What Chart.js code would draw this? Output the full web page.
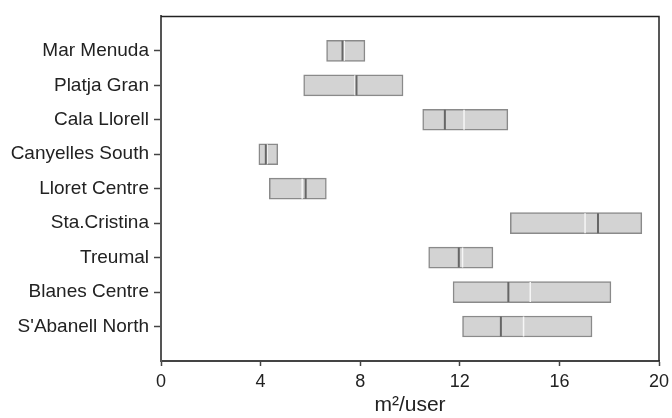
<!DOCTYPE html>
<html>
<head>
<meta charset="utf-8">
<script src="https://cdn.jsdelivr.net/npm/chart.js@4"></script>
<style>
html,body{margin:0;padding:0;background:#fff;}
#wrap{width:672px;height:418px;}
</style>
</head>
<body>
<div id="wrap"><canvas id="c" width="672" height="418"></canvas></div>
<script>
const sites = ["Mar Menuda","Platja Gran","Cala Llorell","Canyelles South","Lloret Centre","Sta.Cristina","Treumal","Blanes Centre","S'Abanell North"];
const lowValues  = [6.65, 5.73, 10.51, 3.93, 4.35, 14.03, 10.75, 11.73, 12.11];
const highValues = [8.19, 9.72, 13.93, 4.69, 6.64, 19.31, 13.33, 18.07, 17.31];
const medianValues = [7.29, 7.85, 11.40, 4.21, 5.81, 17.55, 11.96, 13.95, 13.65];
const meanValues   = [7.36, 7.79, 12.17, 4.26, 5.67, 17.03, 12.11, 14.83, 14.56];
const xTicks = [0, 4, 8, 12, 16, 20];

const barData = sites.map((s, i) => ({ x: [lowValues[i], highValues[i]], y: i }));
const medData = sites.map((s, i) => ({ x: medianValues[i], y: i }));
const meanData = sites.map((s, i) => ({ x: meanValues[i], y: i }));

const framePlugin = {
  id: 'frame',
  afterDraw(chart) {
    const a = chart.chartArea, ctx = chart.ctx;
    ctx.save();
    ctx.strokeStyle = '#222';
    ctx.lineWidth = 1.5;
    ctx.beginPath();
    ctx.moveTo(a.left, a.top); ctx.lineTo(a.right, a.top); ctx.lineTo(a.right, a.bottom);
    ctx.stroke();
    ctx.restore();
  }
};

const font = "'Liberation Sans', Arial, sans-serif";

new Chart(document.getElementById('c'), {
  type: 'bar',
  data: {
    datasets: [
      {
        type: 'bar',
        indexAxis: 'y',
        order: 3,
        data: barData,
        backgroundColor: '#d3d3d3',
        borderColor: '#8a8a8a',
        borderWidth: 1.5,
        borderSkipped: false,
        barThickness: 21
      },
      {
        type: 'scatter',
        order: 2,
        data: meanData,
        showLine: false,
        pointStyle: 'line',
        pointRotation: 90,
        pointRadius: 10,
        pointHoverRadius: 10,
        pointBorderColor: '#f6f6f6',
        pointBorderWidth: 1.5
      },
      {
        type: 'scatter',
        order: 1,
        data: medData,
        showLine: false,
        pointStyle: 'line',
        pointRotation: 90,
        pointRadius: 10,
        pointHoverRadius: 10,
        pointBorderColor: '#666666',
        pointBorderWidth: 2
      }
    ]
  },
  options: {
    responsive: false,
    animation: false,
    events: [],
    layout: { padding: { top: 13, right: 13, left: 0, bottom: 0 } },
    plugins: { legend: { display: false }, tooltip: { enabled: false } },
    scales: {
      x: {
        type: 'linear',
        position: 'bottom',
        offset: false,
        min: 0, max: 20,
        afterBuildTicks(scale) { scale.ticks = xTicks.map(v => ({ value: v })); },
        afterFit(scale) { scale.height = 57; scale.paddingRight = 0; scale.paddingLeft = 0; },
        grid: { display: true, offset: false, drawTicks: true, tickLength: 5, tickColor: '#444', tickWidth: 1.5, drawOnChartArea: false },
        border: { display: true, color: '#444', width: 2 },
        ticks: { color: '#222', font: { family: font, size: 18 }, padding: 5, maxRotation: 0 },
        title: { display: true, text: 'm²/user', color: '#222', font: { family: font, size: 21 }, padding: { top: 0, bottom: 0 } }
      },
      y: {
        type: 'linear',
        reverse: true,
        offset: false,
        min: -1, max: 9,
        afterBuildTicks(scale) { scale.ticks = sites.map((s, i) => ({ value: i })); },
        afterFit(scale) { scale.width = 161; },
        grid: { display: true, offset: false, drawTicks: true, tickLength: 7, tickColor: '#444', tickWidth: 1.5, drawOnChartArea: false },
        border: { display: true, color: '#555', width: 2 },
        ticks: {
          color: '#222',
          font: { family: font, size: 19 },
          padding: 5,
          callback: (v) => sites[v] !== undefined ? sites[v] : ''
        }
      }
    }
  },
  plugins: [framePlugin]
});
</script>
</body>
</html>
